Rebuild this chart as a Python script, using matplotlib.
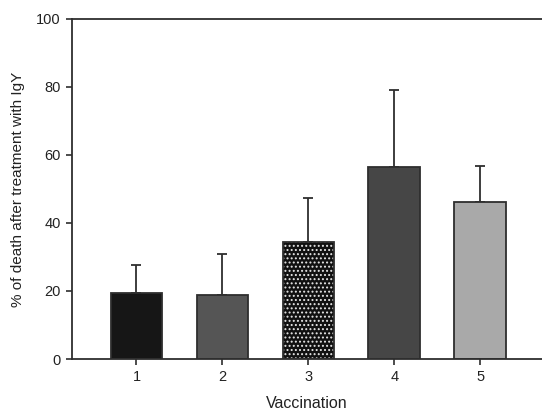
import matplotlib
matplotlib.use("Agg")
import matplotlib.pyplot as plt
import numpy as np

plt.rcParams['font.family'] = ['Liberation Sans', 'DejaVu Sans']
plt.rcParams['hatch.linewidth'] = 0.9

groups = [1, 2, 3, 4, 5]
death_pct = [19.3, 18.8, 34.4, 56.6, 46.3]
upper_err = [8.3, 12.1, 12.9, 22.4, 10.6]
bar_colors = ['#161616', '#555555', '#111111', '#464646', '#a9a9a9']
hatches = [None, None, '....', None, None]

fig = plt.figure(figsize=(5.42, 4.11), dpi=100)
ax = fig.add_axes([72 / 542, 52 / 411, 1 - 72 / 542, 340 / 411])

edge = '#2e2e2e'
width = 0.6
for x, v, c, h in zip(groups, death_pct, bar_colors, hatches):
    if h:
        ax.bar(x, v, width=width, color=c, edgecolor='#e6e6e6', hatch=h,
               linewidth=0, zorder=2)
        ax.bar(x, v, width=width, fill=False, edgecolor=edge,
               linewidth=1.3, zorder=3)
    else:
        ax.bar(x, v, width=width, color=c, edgecolor=edge, linewidth=1.3,
               zorder=2)

ax.errorbar(groups, death_pct, yerr=[np.zeros(len(groups)), upper_err],
            fmt='none', ecolor=edge, elinewidth=1.3, capsize=3.5,
            capthick=1.3, zorder=1)

ax.set_xlim(0.25, 5.72)
ax.set_ylim(0, 100)
ax.set_xticks(groups)
ax.set_yticks([0, 20, 40, 60, 80, 100])

for side in ['left', 'top', 'bottom']:
    ax.spines[side].set_color(edge)
    ax.spines[side].set_linewidth(1.3)
ax.spines['right'].set_visible(False)

ax.tick_params(axis='both', direction='out', length=4, width=1.2,
               color=edge, labelsize=10.5, labelcolor='#222222', pad=4)

ax.set_xlabel('Vaccination', fontsize=11.5, color='#222222')
ax.set_ylabel('% of death after treatment with IgY', fontsize=11,
              color='#222222')
ax.xaxis.set_label_coords(0.5, -37 / 340)
ax.yaxis.set_label_coords(-47 / 470, 0.5)

fig.savefig('out.png', dpi=100)
